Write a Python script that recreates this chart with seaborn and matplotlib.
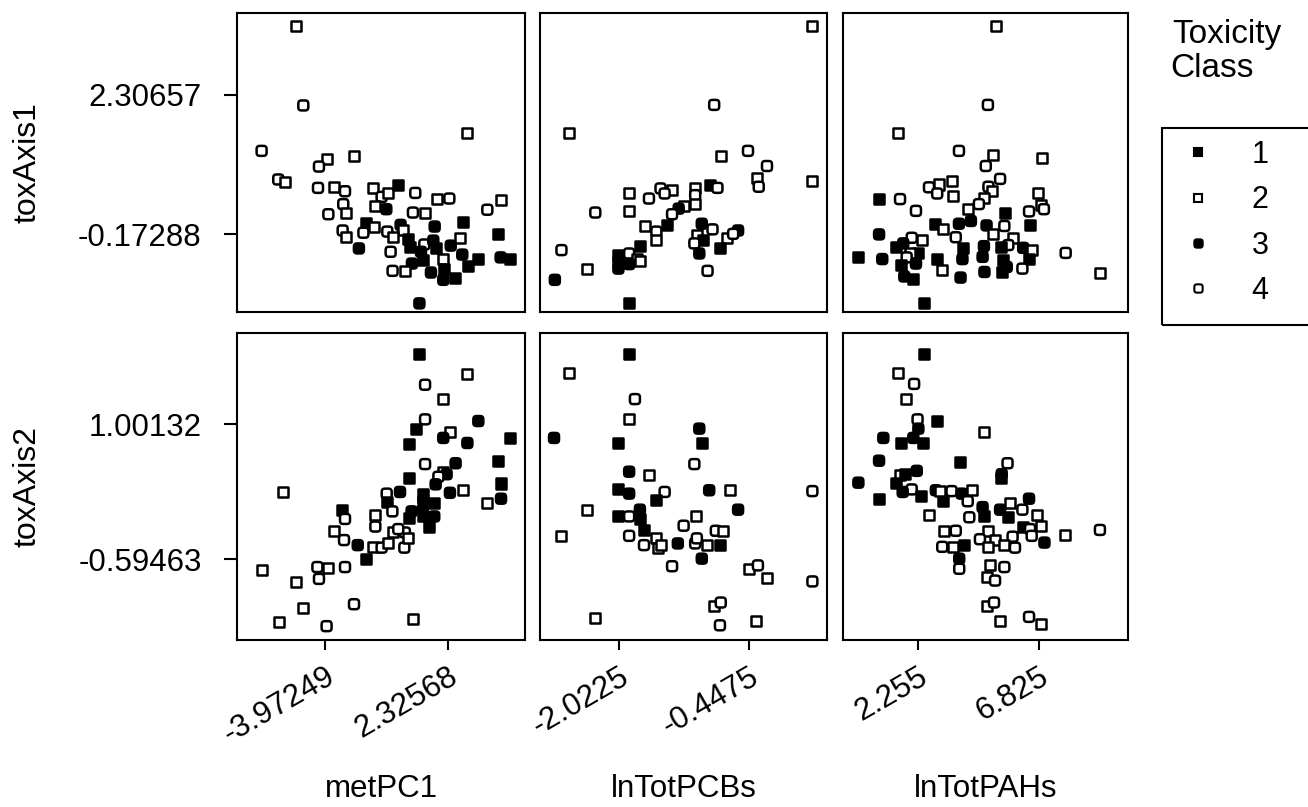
import matplotlib
matplotlib.use("Agg")
import numpy as np
import matplotlib.pyplot as plt
from matplotlib.lines import Line2D
from matplotlib.patches import Rectangle
from matplotlib.path import Path
import seaborn as sns
import pandas as pd

# ---------------- chart values ----------------
x_vars = ["metPC1", "lnTotPCBs", "lnTotPAHs"]
y_vars = ["toxAxis1", "toxAxis2"]
classes = [1, 2, 3, 4]

x_tick_values = {"metPC1": [-3.97249, 2.32568],
                 "lnTotPCBs": [-2.0225, -0.4475],
                 "lnTotPAHs": [2.255, 6.825]}
x_tick_labels = {"metPC1": ["-3.97249", "2.32568"],
                 "lnTotPCBs": ["-2.0225", "-0.4475"],
                 "lnTotPAHs": ["2.255", "6.825"]}
y_tick_values = {"toxAxis1": [2.30657, -0.17288],
                 "toxAxis2": [1.00132, -0.59463]}
y_tick_labels = {"toxAxis1": ["2.30657", "-0.17288"],
                 "toxAxis2": ["1.00132", "-0.59463"]}

# metPC1 vs toxAxis1
met_tox1_x = [-5.47, -5.08, 3.30, -7.21, -3.85, -4.28, -2.47, -6.36, -6.02, -4.33,
              -3.50, -2.95, -1.50, -1.08, -0.75, -0.23, 0.64, 1.77, 2.38, 5.00,
              -3.04, -2.92, -3.80, -1.40, -0.84, 0.52, 1.14, 4.32, 3.09, 1.63,
              -1.90, -1.45, -2.01, -0.11, 0.03, -3.07, -2.92, -0.79, -0.48, 0.27,
              1.10, 1.56, 1.68, 2.91, 2.45, 4.85, -2.24, -0.62, 0.37, 0.93,
              1.05, 2.07, 3.04, 3.84, 5.00, 5.48, 0.47, 3.32, -0.52, 0.11,
              1.44, 2.11, 2.07, 2.69, 0.85]
met_tox1_y = [3.54, 2.12, 1.62, 1.31, 1.16, 1.03, 1.22, 0.80, 0.76, 0.65,
              0.66, 0.59, 0.64, 0.49, 0.55, 0.70, 0.56, 0.46, 0.46, 0.44,
              0.36, 0.21, 0.18, 0.32, 0.27, 0.21, 0.21, 0.26, 0.05, -0.04,
              0.02, -0.04, -0.15, -0.01, -0.10, -0.11, -0.22, -0.13, -0.22, -0.27,
              -0.36, -0.29, -0.42, -0.24, -0.38, -0.18, -0.43, -0.49, -0.41, -0.49,
              -0.64, -0.61, -0.54, -0.62, -0.59, -0.62, -0.70, -0.74, -0.83, -0.83,
              -0.86, -0.79, -0.99, -0.95, -1.41]
met_tox1_cls = [2, 4, 2, 4, 2, 4, 2, 4, 2, 4, 2, 4, 2, 4, 2, 1, 4, 2, 4, 2,
                4, 2, 4, 2, 3, 4, 2, 4, 1, 3, 1, 2, 4, 3, 2, 4, 2, 4, 2, 1,
                4, 3, 1, 2, 3, 1, 3, 4, 1, 3, 1, 2, 3, 1, 3, 1, 3, 1, 4, 2,
                3, 1, 3, 1, 3]

# metPC1 vs toxAxis2
met_tox2_x = [0.85, 3.30, 1.14, 2.07, 1.14, 3.86, 0.68, 2.41, 2.07, 0.32,
              3.30, 5.48, 1.14, 2.70, 4.85, 2.07, 2.24, 1.82, 0.32, 1.68,
              5.02, -6.10, -0.14, -0.82, 1.05, 2.41, 3.09, -0.82, -0.53, 1.05,
              1.60, 5.02, 4.32, -3.09, -2.95, -1.40, -1.40, 0.45, 0.32, 1.02,
              1.05, 1.61, 1.36, -3.51, -3.00, -0.48, 0.11, -2.30, -1.50, -1.08,
              -0.74, 0.08, -1.88, -7.21, -4.36, -3.80, -2.95, -5.47, -4.28, -5.11,
              -2.49, -6.34, -3.89, 0.51, -0.23, 0.28]
met_tox2_y = [1.83, 1.60, 1.47, 1.30, 1.06, 1.04, 0.95, 0.91, 0.84, 0.77,
              0.78, 0.84, 0.53, 0.54, 0.57, 0.44, 0.41, 0.38, 0.36, 0.29,
              0.30, 0.20, 0.20, 0.18, 0.18, 0.19, 0.22, 0.08, -0.03, 0.10,
              0.07, 0.12, 0.07, -0.01, -0.12, -0.07, -0.21, -0.03, -0.11, -0.01,
              -0.09, -0.09, -0.22, -0.26, -0.37, -0.27, -0.28, -0.43, -0.45, -0.46,
              -0.41, -0.46, -0.60, -0.72, -0.69, -0.70, -0.69, -0.87, -0.83, -1.17,
              -1.13, -1.34, -1.39, -1.30, -0.24, -0.35]
met_tox2_cls = [1, 2, 4, 2, 4, 3, 1, 2, 3, 1, 3, 1, 4, 3, 1, 2, 3, 4, 1, 3,
                1, 2, 3, 4, 1, 3, 2, 1, 4, 3, 1, 3, 2, 1, 4, 2, 4, 3, 1, 3,
                1, 3, 1, 2, 4, 2, 4, 3, 2, 4, 2, 4, 1, 2, 4, 2, 4, 2, 4, 2,
                4, 2, 4, 2, 4, 2]

# lnTotPCBs vs toxAxis1
pcb_tox1_x = [0.32, -0.87, -2.63, -0.46, -0.79, -0.23, -0.35, -0.33, 0.32, -0.92,
              -0.83, -1.10, -1.10, -1.10, -1.52, -1.38, -1.47, -1.90, -1.66, -1.23,
              -1.30, -1.38, -1.90, -2.31, -1.44, -1.71, -1.57, -1.57, -1.02, -0.89,
              -1.08, -1.01, -1.11, -0.71, -0.58, -0.80, -1.05, -1.77, -1.90, -1.81,
              -1.90, -2.03, -2.03, -2.03, -2.72, -2.41, -0.95, -2.80, -1.90, -1.77,
              -0.64]
pcb_tox1_y = [3.54, 2.13, 1.62, 1.31, 1.21, 1.04, 0.82, 0.67, 0.78, 0.70,
              0.65, 0.64, 0.52, 0.37, 0.64, 0.61, 0.55, 0.56, 0.46, 0.33,
              0.28, 0.18, 0.24, 0.21, -0.01, -0.03, -0.13, -0.28, 0.01, -0.09,
              -0.19, -0.28, -0.34, -0.24, -0.11, -0.43, -0.52, -0.39, -0.52, -0.61,
              -0.71, -0.55, -0.79, -0.67, -0.46, -0.80, -0.83, -0.99, -1.41, -0.65,
              -0.17]
pcb_tox1_cls = [2, 4, 2, 4, 2, 4, 2, 4, 2, 1, 4, 2, 4, 2, 4, 2, 4, 2, 4, 2,
                3, 4, 2, 4, 1, 2, 4, 2, 3, 4, 2, 1, 4, 2, 3, 1, 3, 1, 4, 2,
                3, 1, 3, 1, 4, 2, 4, 3, 1, 2, 4]

# lnTotPCBs vs toxAxis2
pcb_tox2_x = [-1.90, -2.63, -1.83, -1.90, -2.81, -2.03, -1.05, -1.02, -1.11, -1.90,
              -1.66, -2.03, -1.90, -1.47, -1.57, -0.93, -0.68, 0.32, -2.41, -2.03,
              -1.90, -1.77, -1.77, -0.58, -1.09, -1.24, -2.73, -1.90, -1.72, -1.57,
              -1.72, -1.55, -1.31, -1.10, -0.96, -0.85, -0.76, -0.80, -1.02, -1.38,
              -0.45, -0.34, -0.23, 0.32, -0.87, -0.79, -2.31, -0.80, -0.36, -1.08,
              -1.51]
pcb_tox2_y = [1.83, 1.61, 1.30, 1.06, 0.84, 0.78, 0.95, 0.78, 0.53, 0.44,
              0.40, 0.23, 0.18, 0.20, 0.10, 0.22, 0.22, 0.21, -0.01, -0.09,
              -0.09, -0.01, -0.12, -0.01, -0.08, -0.20, -0.32, -0.32, -0.25, -0.34,
              -0.43, -0.46, -0.41, -0.41, -0.43, -0.26, -0.26, -0.43, -0.59, -0.68,
              -0.71, -0.67, -0.82, -0.86, -1.15, -1.11, -1.29, -1.38, -1.33, -0.35,
              -0.43]
pcb_tox2_cls = [1, 2, 4, 2, 3, 1, 3, 1, 4, 3, 2, 1, 3, 4, 1, 3, 2, 4, 2, 1,
                4, 3, 1, 3, 2, 4, 2, 4, 1, 2, 4, 2, 3, 4, 2, 4, 2, 1, 3, 4,
                2, 4, 2, 4, 2, 4, 2, 4, 2, 4, 2]

# lnTotPAHs vs toxAxis1
pah_tox1_x = [5.19, 4.90, 1.53, 3.81, 5.10, 4.82, 6.95, 5.36, 3.53, 2.68,
              3.07, 2.99, 3.60, 4.92, 5.04, 0.80, 1.59, 4.77, 4.56, 6.77,
              2.19, 4.14, 4.26, 6.45, 6.89, 7.01, 2.91, 3.22, 3.81, 5.54,
              4.85, 5.52, 5.10, 6.49, 0.80, 2.03, 2.43, 3.69, 5.86, 5.67,
              5.39, 6.23, 6.57, 7.83, 1.44, 1.71, 2.28, 1.97, 1.84, 4.75,
              3.97, 4.70, 0.02, 0.92, 1.63, 2.19, 2.97, 3.94, 5.48, 5.61,
              6.46, 3.18, 6.20, 4.77, 5.44, 1.75, 2.09, 3.87, 9.12, 2.51]
pah_tox1_y = [3.54, 2.13, 1.62, 1.31, 1.24, 1.04, 1.18, 0.81, 0.78, 0.66,
              0.71, 0.55, 0.51, 0.67, 0.59, 0.45, 0.45, 0.47, 0.36, 0.56,
              0.24, 0.27, 0.06, 0.23, 0.34, 0.27, 0.00, -0.09, 0.01, 0.20,
              -0.02, -0.03, -0.18, -0.02, -0.18, -0.24, -0.28, -0.23, -0.24, -0.37,
              -0.40, -0.42, -0.45, -0.51, -0.41, -0.34, -0.51, -0.52, -0.59, -0.39,
              -0.42, -0.58, -0.59, -0.62, -0.73, -0.70, -0.62, -0.62, -0.64, -0.76,
              -0.61, -0.82, -0.79, -0.85, -0.85, -0.93, -0.98, -0.95, -0.86, -1.41]
pah_tox1_cls = [2, 4, 2, 4, 2, 4, 2, 4, 2, 4, 2, 4, 2, 4, 2, 1, 4, 2, 4, 2,
                4, 2, 3, 4, 2, 4, 1, 2, 3, 1, 3, 4, 2, 1, 3, 4, 2, 4, 2, 4,
                1, 3, 2, 4, 1, 3, 1, 2, 4, 3, 1, 3, 1, 3, 1, 3, 1, 3, 1, 3,
                1, 2, 4, 3, 1, 3, 1, 3, 2, 1]

# lnTotPAHs vs toxAxis2
pah_tox2_x = [2.51, 1.53, 2.12, 1.81, 2.25, 2.28, 2.99, 0.96, 1.63, 2.09,
              2.44, 4.77, 0.80, 3.85, 5.64, 2.22, 1.59, 1.78, 5.42, 5.39,
              0.02, 1.44, 2.03, 1.69, 2.37, 2.94, 3.20, 3.10, 3.53, 3.91,
              4.29, 4.14, 0.80, 2.68, 4.20, 4.70, 4.77, 5.36, 5.73, 5.64,
              6.20, 6.45, 6.76, 6.23, 6.49, 6.89, 6.55, 7.03, 7.80, 9.12,
              3.25, 3.69, 4.89, 4.60, 5.17, 5.83, 5.52, 5.92, 4.89, 3.18,
              3.57, 4.00, 3.82, 3.82, 4.98, 5.52, 4.85, 5.17, 4.88, 5.13,
              5.36, 6.45, 6.90]
pah_tox2_y = [1.83, 1.61, 1.48, 1.30, 1.06, 0.95, 1.04, 0.84, 0.78, 0.84,
              0.78, 0.91, 0.57, 0.55, 0.54, 0.45, 0.40, 0.41, 0.41, 0.36,
              0.31, 0.31, 0.23, 0.20, 0.15, 0.22, 0.09, 0.21, 0.21, 0.18,
              0.22, 0.09, 0.12, -0.07, -0.10, 0.02, -0.09, -0.01, 0.07, -0.10,
              -0.01, 0.12, -0.07, -0.21, -0.24, -0.20, -0.32, -0.40, -0.31, -0.25,
              -0.26, -0.26, -0.26, -0.36, -0.37, -0.33, -0.43, -0.46, -0.45, -0.45,
              -0.45, -0.43, -0.59, -0.71, -0.67, -0.69, -0.81, -0.85, -1.15, -1.11,
              -1.33, -1.28, -1.37]
pah_tox2_cls = [1, 2, 4, 2, 4, 3, 1, 3, 1, 3, 1, 2, 3, 1, 4, 3, 2, 1, 3, 1,
                3, 1, 4, 3, 1, 3, 1, 2, 4, 3, 2, 4, 1, 2, 4, 3, 1, 3, 2, 1,
                4, 3, 2, 1, 4, 2, 4, 3, 2, 4, 2, 4, 2, 4, 2, 4, 2, 4, 2, 4,
                2, 1, 3, 4, 2, 4, 2, 4, 2, 4, 2, 4, 2]

panels = {
    ("toxAxis1", "metPC1"): (met_tox1_x, met_tox1_y, met_tox1_cls),
    ("toxAxis2", "metPC1"): (met_tox2_x, met_tox2_y, met_tox2_cls),
    ("toxAxis1", "lnTotPCBs"): (pcb_tox1_x, pcb_tox1_y, pcb_tox1_cls),
    ("toxAxis2", "lnTotPCBs"): (pcb_tox2_x, pcb_tox2_y, pcb_tox2_cls),
    ("toxAxis1", "lnTotPAHs"): (pah_tox1_x, pah_tox1_y, pah_tox1_cls),
    ("toxAxis2", "lnTotPAHs"): (pah_tox2_x, pah_tox2_y, pah_tox2_cls),
}

# ---------------- layout / style ----------------
x_limits = {"metPC1": (-8.467, 6.244), "lnTotPCBs": (-2.980, 0.497), "lnTotPAHs": (-0.559, 10.178)}
y_limits = {"toxAxis1": (-1.564, 3.769), "toxAxis2": (-1.554, 2.083)}

# rounded-square marker (superellipse) for classes 3 and 4
_t = np.linspace(0, 2 * np.pi, 48, endpoint=False)
_c, _s = np.cos(_t), np.sin(_t)
_verts = np.column_stack([np.sign(_c) * np.abs(_c) ** 0.5, np.sign(_s) * np.abs(_s) ** 0.5])
_verts = np.vstack([_verts, _verts[:1]])
rounded_square = Path(_verts, closed=True)

palette = {1: "black", 2: "white", 3: "black", 4: "white"}
markers = {1: "s", 2: "s", 3: rounded_square, 4: rounded_square}

sns.set_style("white")
plt.rcParams["font.family"] = ["Liberation Sans", "DejaVu Sans"]
plt.rcParams["text.color"] = "black"

W, H = 1308, 807
fig = plt.figure(figsize=(W / 100, H / 100), dpi=100)
fig.patch.set_facecolor("white")

lefts = [237, 540, 843]
rights = [525, 827, 1128]
tops = [13, 333]
bottoms = [312, 640]

for r, yv in enumerate(y_vars):
    for c, xv in enumerate(x_vars):
        ax = fig.add_axes([lefts[c] / W, 1 - bottoms[r] / H,
                           (rights[c] - lefts[c]) / W, (bottoms[r] - tops[r]) / H])
        xs, ys, cl = panels[(yv, xv)]
        df = pd.DataFrame({xv: xs, yv: ys, "cls": cl})
        sns.scatterplot(data=df, x=xv, y=yv, hue="cls", style="cls",
                        hue_order=classes, style_order=classes,
                        palette=palette, markers=markers, s=52,
                        edgecolor="black", linewidth=1.8, legend=False, ax=ax)
        ax.set_xlim(*x_limits[xv])
        ax.set_ylim(*y_limits[yv])
        for sp in ax.spines.values():
            sp.set_color("black")
            sp.set_linewidth(1.5)
        ax.tick_params(colors="black", labelcolor="black", width=1.5, labelsize=22.5)
        ax.tick_params(axis="x", direction="out", length=7.5, pad=8)
        ax.tick_params(axis="y", direction="out", length=9.5, pad=16)

        if r == len(y_vars) - 1:
            ax.set_xticks(x_tick_values[xv])
            ax.set_xticklabels(x_tick_labels[xv], rotation=30, ha="right",
                               va="top", rotation_mode="anchor")
            ax.tick_params(axis="x", bottom=True)
            ax.set_xlabel(xv, fontsize=22.5, color="black")
            ax.xaxis.set_label_coords(0.5, -0.435)
        else:
            ax.set_xticks([])
            ax.set_xlabel("")
        if c == 0:
            ax.set_yticks(y_tick_values[yv])
            ax.set_yticklabels(y_tick_labels[yv])
            ax.tick_params(axis="y", left=True)
            ax.set_ylabel(yv, fontsize=23, color="black")
            ax.yaxis.set_label_coords(-0.675, 0.5)
        else:
            ax.set_yticks([])
            ax.set_ylabel("")

# legend title
fig.text(1172 / W, 1 - 43 / H, "Toxicity", fontsize=24, va="baseline", ha="left", color="black")
fig.text(1170 / W, 1 - 77 / H, "Class", fontsize=24, va="baseline", ha="left", color="black")

# legend frame (runs off the right edge as in the reference)
fig.patches.append(Rectangle((1162 / W, 1 - 325 / H), 200 / W, 197 / H,
                             transform=fig.transFigure, fill=False,
                             edgecolor="black", linewidth=1.5))

handles = [Line2D([], [], marker=markers[k], linestyle="none", markersize=6,
                  markerfacecolor=palette[k], markeredgecolor="black",
                  markeredgewidth=1.5) for k in classes]
leg = fig.legend(handles, [str(k) for k in classes], loc="upper left",
                 bbox_to_anchor=(1183 / W, 1 - 140 / H), frameon=False,
                 fontsize=22, handlelength=1.0, handletextpad=1.25,
                 borderpad=0, borderaxespad=0, labelspacing=0.5)
for t in leg.get_texts():
    t.set_color("black")

fig.savefig("out.png", dpi=100)
